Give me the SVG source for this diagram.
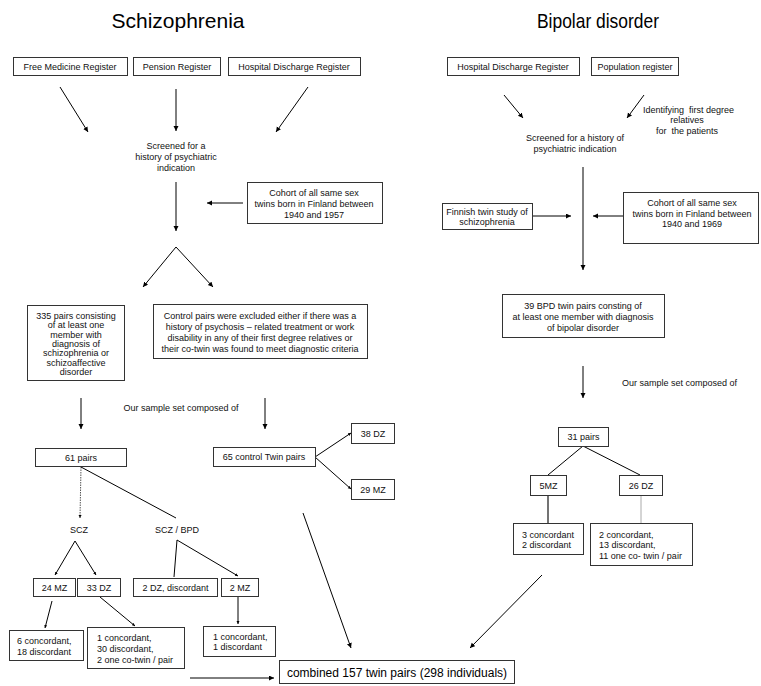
<svg xmlns="http://www.w3.org/2000/svg" width="761" height="686" viewBox="0 0 761 686">
<style>
.box{fill:#fff;stroke:#333;stroke-width:1}
.t{font-family:"Liberation Sans",Arial,sans-serif;font-size:9px;fill:#111}
.c{text-anchor:middle}
.title{font-family:"Liberation Sans",Arial,sans-serif;font-size:21px;fill:#000;text-anchor:middle}
.big{font-family:"Liberation Sans",Arial,sans-serif;font-size:12px;fill:#000;text-anchor:middle}
.ln{stroke:#000;stroke-width:1;fill:none}
.a{marker-end:url(#ah)}
.s{marker-end:url(#sh)}
.dot{stroke:#555;stroke-dasharray:1.5 1}
.gray{stroke:#aaa}
.dk{stroke:#444;stroke-width:1.5}
</style>
<defs>
<marker id="ah" markerUnits="userSpaceOnUse" markerWidth="6" markerHeight="6" refX="5" refY="2.5" orient="auto"><path d="M0,0 L5,2.5 L0,5 z" fill="#000"/></marker>
<marker id="sh" markerUnits="userSpaceOnUse" markerWidth="4" markerHeight="4" refX="3" refY="1.5" orient="auto"><path d="M0,0 L3,1.5 L0,3 z" fill="#000"/></marker>
</defs>
<rect width="761" height="686" fill="#fff"/>
<text class="title" x="178" y="28">Schizophrenia</text>
<text class="title" x="598" y="28" textLength="122" lengthAdjust="spacingAndGlyphs">Bipolar disorder</text>

<g id="connectors">
<line class="ln a" x1="60" y1="87" x2="88" y2="132"/>
<line class="ln a" x1="176" y1="89" x2="176" y2="131"/>
<line class="ln a" x1="308" y1="87" x2="276" y2="132"/>
<line class="ln a" x1="176" y1="182" x2="176" y2="231"/>
<line class="ln a" x1="243" y1="203" x2="207" y2="203"/>
<line class="ln a" x1="176" y1="247" x2="143" y2="287"/>
<line class="ln a" x1="176" y1="247" x2="213" y2="287"/>
<line class="ln a" x1="81" y1="398" x2="81" y2="429"/>
<line class="ln a" x1="265" y1="398" x2="265" y2="429"/>
<line class="ln s dot" x1="81" y1="467" x2="80" y2="518"/>
<line class="ln" x1="81" y1="467" x2="176" y2="518"/>
<line class="ln s" x1="315" y1="457" x2="351" y2="433"/>
<line class="ln s" x1="315" y1="457" x2="351" y2="489"/>
<line class="ln s" x1="75" y1="541" x2="55" y2="575"/>
<line class="ln s" x1="75" y1="541" x2="96" y2="575"/>
<line class="ln" x1="177" y1="540" x2="174" y2="577"/>
<line class="ln s" x1="177" y1="540" x2="238" y2="576"/>
<line class="ln s" x1="52" y1="601" x2="45" y2="628"/>
<line class="ln s" x1="100" y1="597" x2="135" y2="626"/>
<line class="ln s" x1="238" y1="596" x2="238" y2="624"/>
<line class="ln a" x1="303" y1="513" x2="351" y2="648"/>
<line class="ln a" x1="190" y1="678" x2="274" y2="678"/>
<line class="ln a" x1="542" y1="575" x2="470" y2="648"/>
<line class="ln a" x1="504" y1="95" x2="523" y2="118"/>
<line class="ln a" x1="644" y1="95" x2="627" y2="118"/>
<line class="ln a" x1="583" y1="167" x2="583" y2="270"/>
<line class="ln a" x1="532" y1="216" x2="571" y2="216"/>
<line class="ln a" x1="623" y1="216" x2="593" y2="216"/>
<line class="ln a" x1="583" y1="366" x2="583" y2="398"/>
<line class="ln" x1="583" y1="446" x2="548" y2="475"/>
<line class="ln" x1="583" y1="446" x2="640" y2="475"/>
<line class="ln dk" x1="548" y1="495" x2="548" y2="523"/>
<line class="ln gray" x1="641" y1="495" x2="641" y2="523"/>
</g>

<g id="free-medicine"><rect class="box" x="13.5" y="57.5" width="114" height="18"/><text class="t c" x="70" y="69.5">Free Medicine Register</text></g>
<g id="pension"><rect class="box" x="133.5" y="57.5" width="87" height="18"/><text class="t c" x="177" y="69.5">Pension Register</text></g>
<g id="hospital-scz"><rect class="box" x="228.5" y="57.5" width="132" height="18"/><text class="t c" x="294" y="69.5">Hospital Discharge Register</text></g>
<g id="screened-scz"><text class="t c" x="176" y="149">Screened for a</text><text class="t c" x="176" y="160">history of psychiatric</text><text class="t c" x="176" y="171">indication</text></g>
<g id="cohort-scz"><rect class="box" x="247.5" y="182.5" width="135" height="41"/><text class="t c" x="314" y="196">Cohort of all same sex</text><text class="t c" x="314" y="207">twins born in Finland between</text><text class="t c" x="314" y="217.5">1940 and 1957</text></g>
<g id="pairs-335"><rect class="box" x="27.5" y="305.5" width="97" height="75"/>
<text class="t c" x="76" y="319">335 pairs consisting</text><text class="t c" x="76" y="328.3">of at least one</text><text class="t c" x="76" y="337.6">member with</text><text class="t c" x="76" y="346.9">diagnosis of</text><text class="t c" x="76" y="356.2">schizophrenia or</text><text class="t c" x="76" y="365.5">schizoaffective</text><text class="t c" x="76" y="374.8">disorder</text></g>
<g id="control-excl"><rect class="box" x="153.5" y="304.5" width="214" height="54"/>
<text class="t c" x="260" y="319">Control pairs were excluded either if there was a</text><text class="t c" x="260" y="330">history of psychosis – related treatment or work</text><text class="t c" x="260" y="341">disability in any of their first degree relatives or</text><text class="t c" x="260" y="352">their co-twin was found to meet diagnostic criteria</text></g>
<text class="t c" x="181" y="411">Our sample set composed of</text>
<g id="pairs-61"><rect class="box" x="35.5" y="448.5" width="91" height="18"/><text class="t c" x="81" y="460.5">61 pairs</text></g>
<g id="control-65"><rect class="box" x="213.5" y="447.5" width="102" height="19"/><text class="t c" x="264" y="460">65 control Twin pairs</text></g>
<g id="dz-38"><rect class="box" x="351.5" y="423.5" width="43" height="20"/><text class="t c" x="373" y="436.5">38 DZ</text></g>
<g id="mz-29"><rect class="box" x="351.5" y="479.5" width="43" height="20"/><text class="t c" x="373" y="492.5">29 MZ</text></g>
<g id="scz"><text class="t c" x="79" y="533">SCZ</text></g>
<g id="scz-bpd"><text class="t c" x="177" y="533">SCZ / BPD</text></g>
<g id="mz-24"><rect class="box" x="33.5" y="578.5" width="42" height="18"/><text class="t c" x="54.5" y="590.5">24 MZ</text></g>
<g id="dz-33"><rect class="box" x="77.5" y="578.5" width="43" height="18"/><text class="t c" x="99" y="590.5">33 DZ</text></g>
<g id="dz-2"><rect class="box" x="133.5" y="578.5" width="84" height="18"/><text class="t c" x="175.5" y="590.5">2 DZ, discordant</text></g>
<g id="mz-2"><rect class="box" x="221.5" y="578.5" width="37" height="18"/><text class="t c" x="240" y="590.5">2 MZ</text></g>
<g id="res-24mz"><rect class="box" x="9.5" y="630.5" width="74" height="30"/><text class="t" x="17" y="644">6 concordant,</text><text class="t" x="17" y="654.5">18 discordant</text></g>
<g id="res-33dz"><rect class="box" x="87.5" y="627.5" width="97" height="41"/><text class="t" x="97" y="641">1 concordant,</text><text class="t" x="97" y="652">30 discordant,</text><text class="t" x="97" y="662.5">2 one co-twin / pair</text></g>
<g id="res-2mz"><rect class="box" x="203.5" y="626.5" width="72" height="30"/><text class="t" x="213" y="640">1 concordant,</text><text class="t" x="213" y="650">1 discordant</text></g>
<g id="combined"><rect class="box" x="279.5" y="660.5" width="235" height="23"/><text class="big" x="397" y="676.5">combined 157 twin pairs (298 individuals)</text></g>

<g id="hospital-bpd"><rect class="box" x="447.5" y="57.5" width="132" height="18"/><text class="t c" x="513" y="69.5">Hospital Discharge Register</text></g>
<g id="population"><rect class="box" x="591.5" y="57.5" width="87" height="18"/><text class="t c" x="635" y="69.5">Population register</text></g>
<g id="identifying"><text class="t" x="643" y="113" xml:space="preserve">Identifying  first degree</text><text class="t c" x="687" y="123">relatives</text><text class="t c" x="687" y="133.5" xml:space="preserve">for  the patients</text></g>
<g id="screened-bpd"><text class="t c" x="575" y="140.5">Screened for a history of</text><text class="t c" x="575" y="151.5">psychiatric indication</text></g>
<g id="finnish"><rect class="box" x="442.5" y="203.5" width="90" height="26"/><text class="t c" x="487" y="214.5">Finnish twin study of</text><text class="t c" x="487" y="225">schizophrenia</text></g>
<g id="cohort-bpd"><rect class="box" x="623.5" y="192.5" width="135" height="51"/><text class="t c" x="692" y="206">Cohort of all same sex</text><text class="t c" x="692" y="217">twins born in Finland between</text><text class="t c" x="692" y="227">1940 and 1969</text></g>
<g id="bpd-39"><rect class="box" x="502.5" y="294.5" width="162" height="43"/><text class="t c" x="583" y="309">39 BPD twin pairs consting of</text><text class="t c" x="583" y="319.5">at least one member with diagnosis</text><text class="t c" x="583" y="330.5">of bipolar disorder</text></g>
<text class="t" x="622" y="386">Our sample set composed of</text>
<g id="pairs-31"><rect class="box" x="558.5" y="427.5" width="50" height="19"/><text class="t c" x="583.5" y="440">31 pairs</text></g>
<g id="mz-5"><rect class="box" x="530.5" y="475.5" width="36" height="20"/><text class="t c" x="548.5" y="488.5">5MZ</text></g>
<g id="dz-26"><rect class="box" x="619.5" y="475.5" width="43" height="20"/><text class="t c" x="641" y="488.5">26 DZ</text></g>
<g id="res-5mz"><rect class="box" x="513.5" y="523.5" width="70" height="31"/><text class="t" x="522" y="537.5">3 concordant</text><text class="t" x="522" y="548">2 discordant</text></g>
<g id="res-26dz"><rect class="box" x="590.5" y="523.5" width="102" height="42"/><text class="t" x="599" y="537.5">2 concordant,</text><text class="t" x="599" y="548">13 discordant,</text><text class="t" x="599" y="559">11 one co- twin / pair</text></g>
</svg>
